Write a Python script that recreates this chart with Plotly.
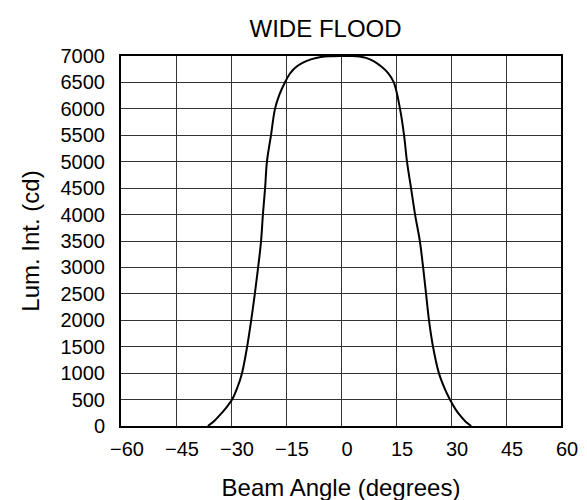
import plotly.graph_objects as go

# Beam profile
beam_angle = [-36.3, -34.5, -33.0, -31.5, -29.7, -28.3, -27.0, -25.6, -24.5, -23.5,
              -22.6, -21.8, -21.3, -20.7, -20.2, -19.1, -18.0, -16.8, -15.3, -14.0,
              -12.5, -10.5, -8.0, -5.5, -3.0, 0.0, 3.0, 5.0, 7.0, 9.0,
              11.0, 12.8, 14.4, 16.1, 17.2, 18.0, 19.1, 20.2, 21.5, 22.4,
              23.2, 24.0, 25.1, 26.7, 28.2, 29.7, 31.2, 32.7, 34.0, 35.5]
lum_intensity = [0, 100, 210, 330, 500, 720, 1000, 1500, 2000, 2500,
                 3000, 3500, 4000, 4500, 5000, 5500, 6000, 6270, 6500, 6660,
                 6780, 6870, 6940, 6980, 6995, 7000, 7000, 6990, 6960, 6900,
                 6800, 6680, 6500, 6000, 5500, 5000, 4500, 4000, 3500, 3000,
                 2500, 2000, 1500, 1000, 720, 500, 320, 180, 80, 0]

x_ticks = [-60, -45, -30, -15, 0, 15, 30, 45, 60]
y_ticks = list(range(0, 7001, 500))

title_text = "WIDE FLOOD"
x_title = "Beam Angle (degrees)"
y_title = "Lum. Int. (cd)"

FONT = "Liberation Sans, Arial, Helvetica, sans-serif"

fig = go.Figure()
fig.add_trace(go.Scatter(
    x=beam_angle, y=lum_intensity, mode="lines",
    line=dict(color="black", width=2, shape="spline", smoothing=1.0),
    showlegend=False, cliponaxis=True,
))

fig.update_layout(
    width=587, height=500,
    margin=dict(l=113, r=34, t=48, b=82),
    paper_bgcolor="white", plot_bgcolor="white",
    font=dict(family=FONT, color="black", size=20),
    title=dict(text=title_text, font=dict(size=24, color="black"),
               x=0.541, xanchor="center", xref="container",
               y=0.958, yanchor="middle", yref="container"),
)

fig.update_xaxes(
    range=[-60, 60], tickvals=x_ticks, automargin=False,
    showgrid=True, gridcolor="#333333", gridwidth=1,
    showline=True, linecolor="black", linewidth=2, mirror=True,
    zeroline=False, ticks="", ticklabelstandoff=4, ticklabelshift=6,
    tickfont=dict(size=20),
    title=dict(text=x_title, font=dict(size=24), standoff=20),
)
fig.update_yaxes(
    range=[0, 7000], tickvals=y_ticks, automargin=False,
    showgrid=True, gridcolor="#333333", gridwidth=1,
    showline=True, linecolor="black", linewidth=2, mirror=True,
    zeroline=False, ticks="", ticklabelstandoff=10,
    tickfont=dict(size=20),
    title=dict(text=y_title, font=dict(size=24), standoff=14),
)

fig.write_html("out.html")
